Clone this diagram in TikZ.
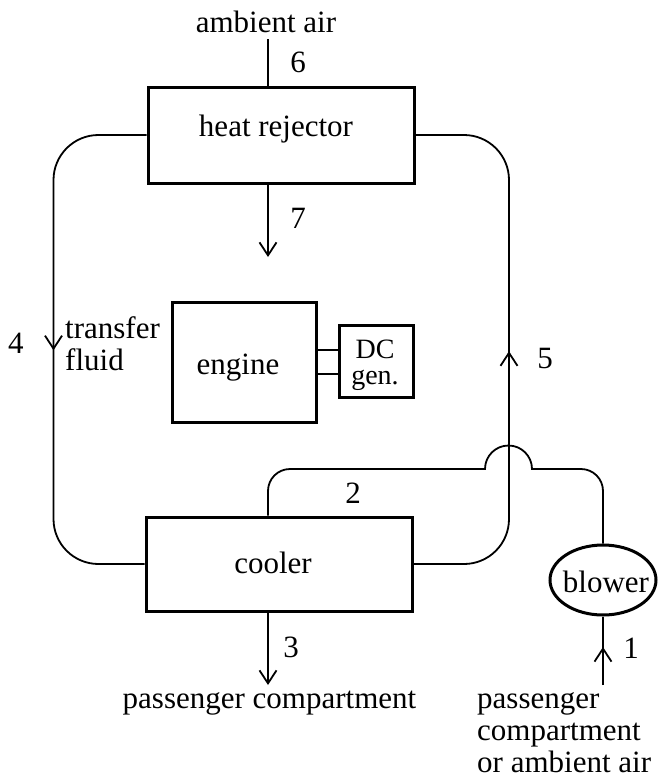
\documentclass[tikz,border=0pt]{standalone}
\usepackage{fontspec}
\setmainfont{Liberation Serif}
\usetikzlibrary{arrows.meta,shapes.geometric,decorations.markings}
\tikzset{
  lbl/.style={font=\fontsize{31}{32}\selectfont, inner sep=0pt, anchor=base},
  blk/.style={draw, line width=3pt, rectangle, inner sep=0pt},
  pipe/.style={line width=1.8pt},
  barb/.tip={Straight Barb[length=13pt,width=17pt]},
  endarrow/.style={pipe, -barb},
  midarrow/.style={pipe, postaction={decorate}, decoration={markings, mark=at position #1 with {\arrow{barb}}}},
}
\begin{document}
\begin{tikzpicture}[x=1pt,y=-1pt]
\useasboundingbox (0,0) rectangle (657,780);
% blocks
\node[blk, minimum width=266, minimum height=96] (hr) at (281,135) {};
\node[blk, minimum width=144, minimum height=120] (eng) at (244,362) {};
\node[blk, minimum width=74, minimum height=72] (dc) at (376,361) {};
\node[blk, minimum width=266, minimum height=94] (cool) at (279,564) {};
\node[draw, ellipse, line width=3pt, minimum width=106, minimum height=70, inner sep=0pt] (blw) at (603,580) {};
% texts (multi-line nodes: base anchor = last line)
\node[lbl] (tamb) at (266,32) {ambient air};
\node[lbl] (thr) at (276,136) {heat rejector};
\node[lbl] (teng) at (238,374) {engine};
\node[lbl, align=center, font=\fontsize{28}{26}\selectfont] (tdc) at (375,384) {DC\\gen.};
\node[lbl] (tcool) at (273,573) {cooler};
\node[lbl] (tblw) at (606,592) {blower};
\node[lbl, anchor=base west, align=left] (ttf) at (65,370) {transfer\\fluid};
\node[lbl] (tpc) at (269.5,708) {passenger compartment};
\node[lbl, anchor=base west, align=left] (tsrc) at (477,772) {passenger\\compartment\\or ambient air};
\node[lbl] (n6) at (298,72) {6};
\node[lbl] (n7) at (298,228) {7};
\node[lbl] (n4) at (16,353) {4};
\node[lbl] (n5) at (545,368) {5};
\node[lbl] (n2) at (353,503) {2};
\node[lbl] (n3) at (291,657) {3};
\node[lbl] (n1) at (631,658) {1};
% coordinates
\coordinate (a6) at (268,39);
\coordinate (a7) at (268,257);
\coordinate (a3) at (268,685);
\coordinate (a1) at (603,685);
\coordinate (lp) at (53.5,0);
\coordinate (rp) at (509,0);
\coordinate (e1) at (0,350);
\coordinate (e2) at (0,374);
% connectors
\draw[pipe] (a6) -- (a6 |- hr.north);
\draw[endarrow] (a7 |- hr.south) -- (a7);
\draw[endarrow] (a3 |- cool.south) -- (a3);
\draw[midarrow=38pt] (a1) -- (blw.south);
\draw[midarrow=289pt, rounded corners=45pt] (hr.west) -- (lp |- hr.west) -- (lp |- cool.west) -- (cool.west);
\draw[midarrow=289pt, rounded corners=45pt] (cool.east) -- (rp |- cool.east) -- (rp |- hr.east) -- (hr.east);
\draw[pipe] (eng.east |- e1) -- (dc.west |- e1);
\draw[pipe] (eng.east |- e2) -- (dc.west |- e2);
\draw[pipe] (blw.north) -- (603,491) arc[start angle=0,end angle=-90,radius=22]
  -- (532,469) arc[start angle=0,end angle=-180,radius=23.5]
  -- (290,469) arc[start angle=-90,end angle=-180,radius=22]
  -- (a3 |- cool.north);
\end{tikzpicture}
\end{document}
